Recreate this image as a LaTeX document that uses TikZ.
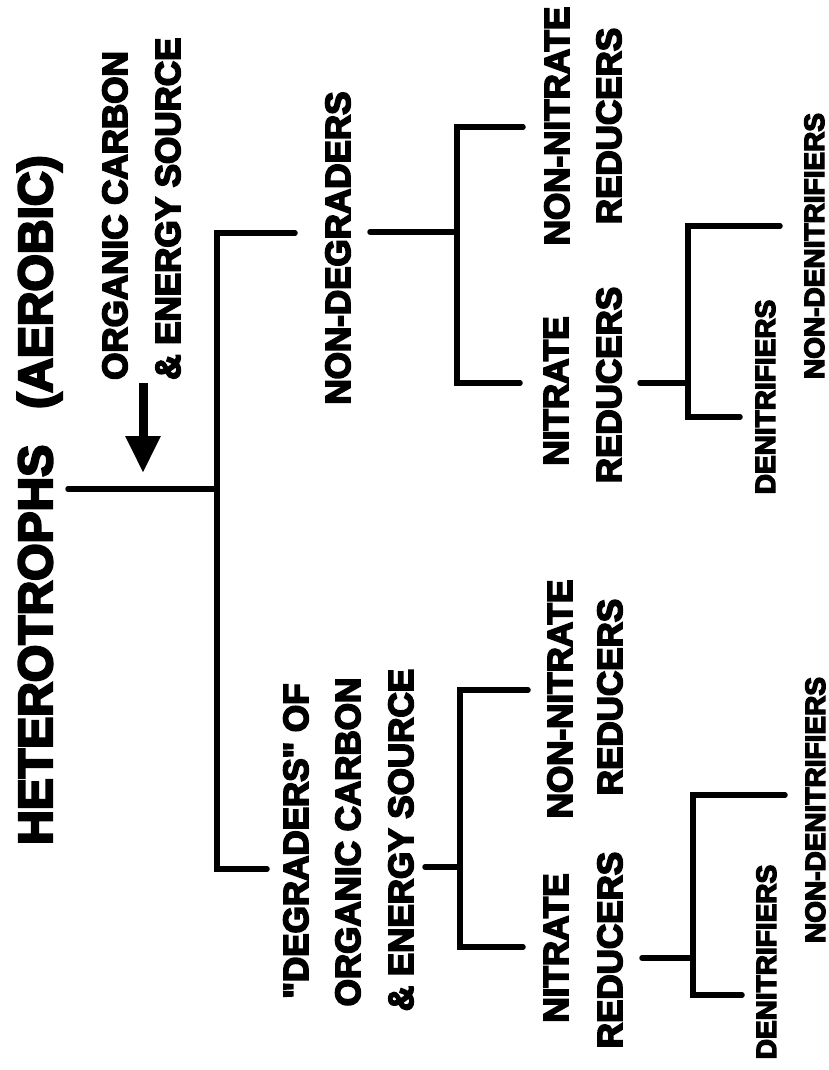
\documentclass[tikz,border=0pt]{standalone}
\usepackage{fontspec}
\usetikzlibrary{arrows.meta}
\newfontfamily\lbl[FakeBold=5]{Liberation Sans Bold}
\tikzset{
  br/.style={line width=5.5pt, line cap=round, line join=miter},
  big/.style={rotate=90, inner sep=0pt, font=\lbl\fontsize{48}{50}\selectfont},
  mid/.style={rotate=90, inner sep=0pt, font=\lbl\fontsize{35}{38}\selectfont},
  sml/.style={rotate=90, inner sep=0pt, font=\lbl\fontsize{28}{30}\selectfont},
  inarrow/.style={line width=9pt, -{Triangle[width=33pt,length=37pt]}}
}
\begin{document}
\begin{tikzpicture}[x=1pt,y=-1pt]
\useasboundingbox (0,0) rectangle (829,1070);
% texts
\node[big, anchor=base west] (title) at (52,845) {HETEROTROPHS\hspace{36pt}(AEROBIC)};
\node[mid, anchor=base west] (src1) at (127,380) {ORGANIC CARBON};
\node[mid, anchor=base west] (src2) at (180,380) {\& ENERGY SOURCE};
\node[mid, anchor=base] (nondeg) at (350,248) {NON-DEGRADERS};
\node[mid, anchor=base] (deg1) at (308,841) {"DEGRADERS" OF};
\node[mid, anchor=base] (deg2) at (360,842) {ORGANIC CARBON};
\node[mid, anchor=base] (deg3) at (413,840) {\& ENERGY SOURCE};
\node[mid, anchor=base] (nnrA1) at (569,126) {NON-NITRATE};
\node[mid, anchor=base] (nnrA2) at (621,126) {REDUCERS};
\node[mid, anchor=base] (nrA1) at (568,391) {NITRATE};
\node[mid, anchor=base] (nrA2) at (621,385) {REDUCERS};
\node[sml, anchor=base] (denA) at (775,397) {DENITRIFIERS};
\node[sml, anchor=base] (ndenA) at (824,246) {NON-DENITRIFIERS};
\node[mid, anchor=base] (nnrB1) at (572,699) {NON-NITRATE};
\node[mid, anchor=base] (nnrB2) at (622,697) {REDUCERS};
\node[mid, anchor=base] (nrB1) at (568,948) {NITRATE};
\node[mid, anchor=base] (nrB2) at (622,950) {REDUCERS};
\node[sml, anchor=base] (denB) at (776,962) {DENITRIFIERS};
\node[sml, anchor=base] (ndenB) at (825,810) {NON-DENITRIFIERS};
% connector points
\coordinate (rootA) at (68,489);
\coordinate (rootB) at (217,489);
\coordinate (mTop) at (295,233);
\coordinate (mTopC) at (217,233);
\coordinate (mBotC) at (217,869);
\coordinate (mBot) at (267,869);
\coordinate (ndS) at (370,232);
\coordinate (ndJ) at (457,232);
\coordinate (ndT) at (523,127);
\coordinate (ndTC) at (457,127);
\coordinate (ndBC) at (457,383);
\coordinate (ndB) at (520,383);
\coordinate (nrAS) at (640,383);
\coordinate (nrAJ) at (688,383);
\coordinate (nrAT) at (780,226);
\coordinate (nrATC) at (688,226);
\coordinate (nrABC) at (688,417);
\coordinate (nrAB) at (740,417);
\coordinate (dgS) at (425,867);
\coordinate (dgJ) at (460,867);
\coordinate (dgT) at (528,690);
\coordinate (dgTC) at (460,690);
\coordinate (dgBC) at (460,947);
\coordinate (dgB) at (523,947);
\coordinate (nrBS) at (642,958);
\coordinate (nrBJ) at (693,958);
\coordinate (nrBT) at (785,795);
\coordinate (nrBTC) at (693,795);
\coordinate (nrBBC) at (693,995);
\coordinate (nrBB) at (742,995);
\coordinate (arrS) at (143,383);
\coordinate (arrE) at (143,473);
% connectors
\draw[br] (rootA) -- (rootB);
\draw[br] (mTop) -- (mTopC) -- (mBotC) -- (mBot);
\draw[br] (ndS) -- (ndJ);
\draw[br] (ndT) -- (ndTC) -- (ndBC) -- (ndB);
\draw[br] (nrAS) -- (nrAJ);
\draw[br] (nrAT) -- (nrATC) -- (nrABC) -- (nrAB);
\draw[br] (dgS) -- (dgJ);
\draw[br] (dgT) -- (dgTC) -- (dgBC) -- (dgB);
\draw[br] (nrBS) -- (nrBJ);
\draw[br] (nrBT) -- (nrBTC) -- (nrBBC) -- (nrBB);
\draw[inarrow] (arrS) -- (arrE);
\end{tikzpicture}
\end{document}
